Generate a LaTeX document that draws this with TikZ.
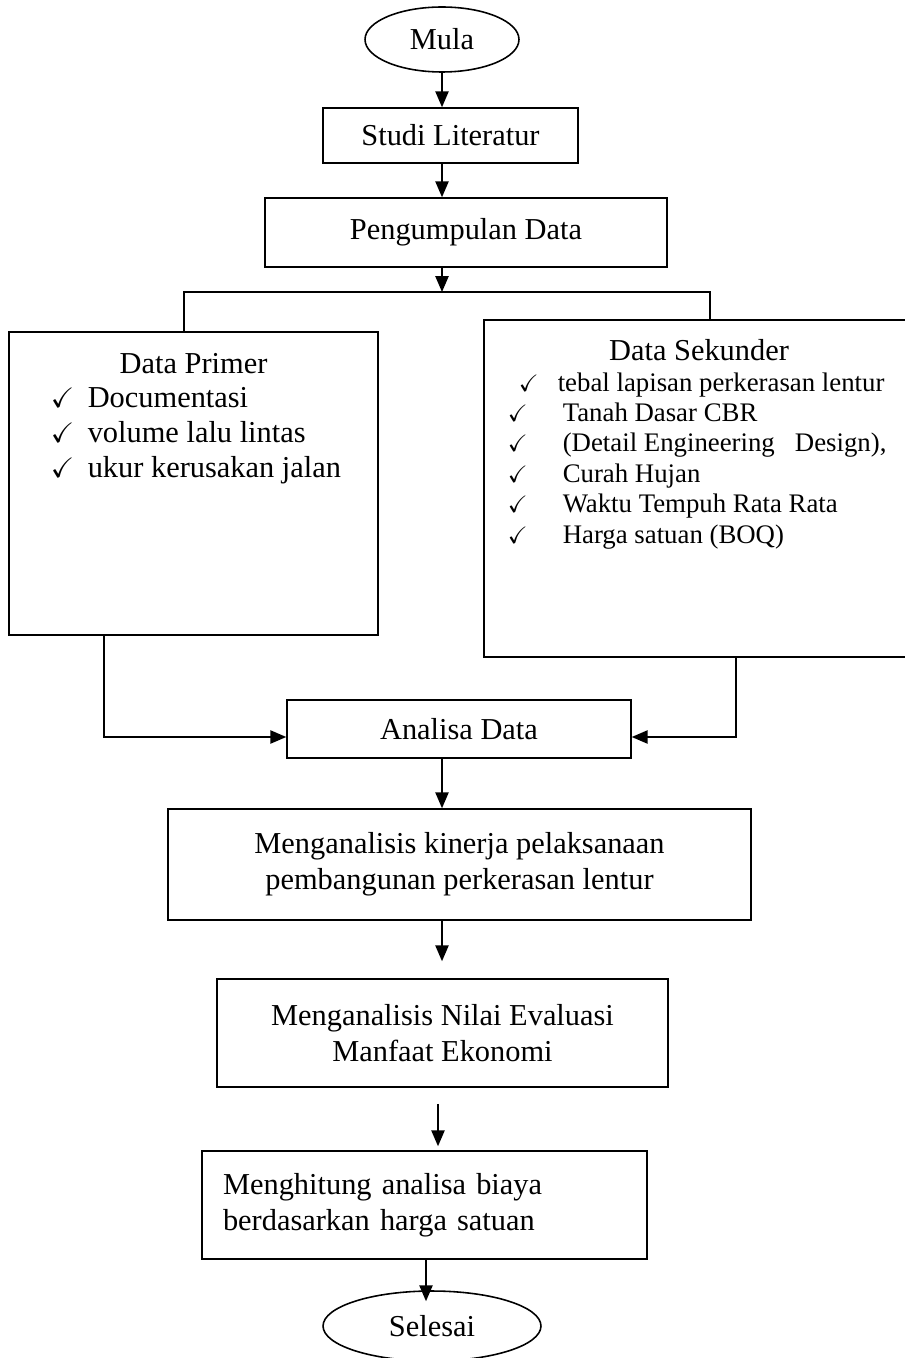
\documentclass[tikz,border=0pt]{standalone}
\usepackage{amssymb}
\usepackage{fontspec}
\setmainfont{Liberation Serif}
\usetikzlibrary{shapes.geometric, arrows.meta}

\tikzset{
  box/.style={draw, rectangle, inner sep=0pt, align=center},
  term/.style={draw, ellipse, inner sep=0pt},
  arr/.style={-{Triangle[length=9pt, width=7.5pt]}},
  item/.style={anchor=base west, inner sep=0pt},
  tick/.style={anchor=base west, inner sep=0pt, font=\fontsize{16}{16}\selectfont}
}

\begin{document}
\begin{tikzpicture}[x=0.02cm, y=-0.02cm, line width=0.9pt,
  every node/.style={font=\fontsize{17.3}{20.5}\selectfont}]
  \useasboundingbox (0, 0) rectangle (904, 1358);

  \node[term, minimum width=3.08cm, minimum height=1.3cm] (mula) at (442, 39.5) {Mula};
  \node[box, minimum width=5.1cm, minimum height=1.1cm] (studi) at (450.5, 135.5) {Studi Literatur};
  \node[box, minimum width=8.04cm, minimum height=1.38cm] (peng) at (466, 232.5) {Pengumpulan Data};
  \coordinate (split) at (442, 292);

  % data primer
  \node[box, minimum width=7.38cm, minimum height=6.06cm] (prim) at (193.5, 483.5) {};
  \node[anchor=base, inner sep=0pt] (primhead) at (193.5, 373) {Data Primer};
  \foreach \txt [count=\i] in {Documentasi, volume lalu lintas, ukur kerusakan jalan} {
    \node[tick] (primtick\i) at (50, 372+35*\i) {$\checkmark$};
    \node[item] (primitem\i) at (87, 372+35*\i) {\txt};
  }

  % data sekunder
  \node[box, minimum width=8.6cm, minimum height=6.74cm] (sek) at (699, 488.5) {};
  \node[anchor=base, inner sep=0pt] (sekhead) at (699, 360) {Data Sekunder};
  \foreach \xc/\xt/\txt [count=\i] in {518/557/tebal lapisan perkerasan lentur,
      507/562/Tanah Dasar CBR, 507/562/{(Detail Engineering\ \ \ Design),},
      507/562/Curah Hujan, 507/562/Waktu Tempuh Rata Rata,
      507/562/Harga satuan (BOQ)} {
    \node[tick, font=\fontsize{13.5}{13.5}\selectfont] (sektick\i) at (\xc, 360.6+30.4*\i) {$\checkmark$};
    \node[item, font=\fontsize{15.25}{15.25}\selectfont] (sekitem\i) at (\xt, 360.6+30.4*\i) {\txt};
  }

  \node[box, minimum width=6.88cm, minimum height=1.16cm] (ana) at (459, 729) {Analisa Data};
  \node[box, minimum width=11.66cm, minimum height=2.22cm] (kin) at (459.5, 864.5)
    {Menganalisis kinerja pelaksanaan\\pembangunan perkerasan lentur};
  \node[box, minimum width=9.02cm, minimum height=2.16cm] (nilai) at (442.5, 1033)
    {Menganalisis Nilai Evaluasi\\Manfaat Ekonomi};
  \node[box, align=left, text width=8.06cm, inner xsep=0.42cm, minimum height=2.16cm] (hit) at (424.5, 1205)
    {Menghitung analisa biaya\\berdasarkan harga satuan};
  \node[term, minimum width=4.36cm, minimum height=1.4cm] (sel) at (432, 1326) {Selesai};

  \draw[arr] (mula) -- (mula |- studi.north);
  \draw[arr] (mula |- studi.south) -- (mula |- peng.north);
  \draw[arr] (mula |- peng.south) -- (split);
  \draw ([xshift=-0.19cm]prim.north) |- (split) -| ([xshift=0.22cm]sek.north);
  \draw[arr] ([xshift=-1.79cm]prim.south) |- ([yshift=-0.16cm]ana.west);
  \draw[arr] ([xshift=0.74cm]sek.south) |- ([yshift=-0.16cm]ana.east);
  \draw[arr] (ana.south -| mula) -- (kin.north -| mula);
  \draw[arr] (kin.south -| mula) -- ([yshift=0.34cm]nilai.north -| mula);
  \draw[arr] ([xshift=-0.08cm, yshift=-0.32cm]nilai.south -| mula) -- ([xshift=-0.08cm, yshift=0.08cm]hit.north -| mula);
  \draw[arr] ([xshift=-0.12cm]hit.south -| sel) -- ([xshift=-0.12cm, yshift=-0.22cm]sel.north);
\end{tikzpicture}
\end{document}
